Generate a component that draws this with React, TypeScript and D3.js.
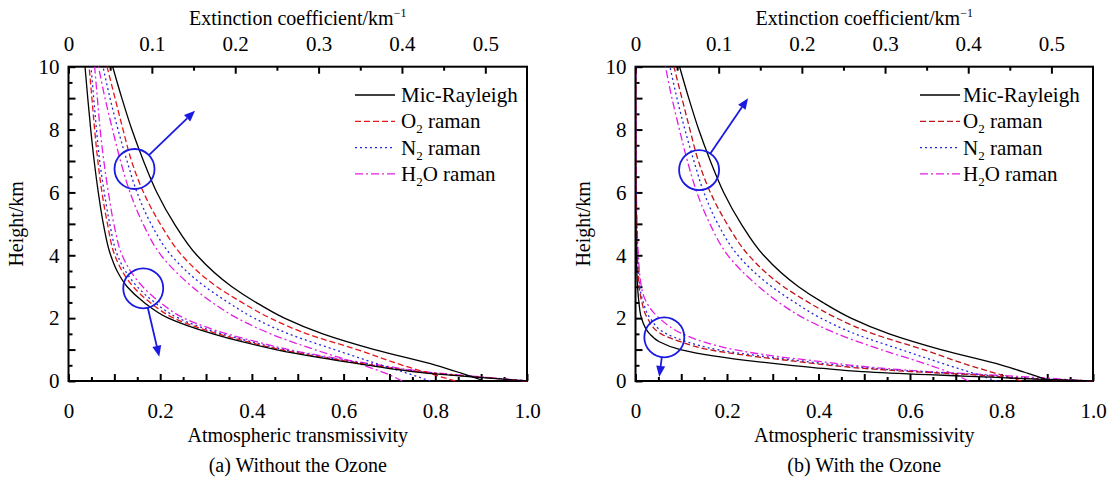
import React from "react";
import * as d3 from "d3";

// extinction coefficient profiles (km^-1), same in both panels
const extHeights = [0, 0.25, 0.5, 1, 1.5, 2, 2.5, 3, 4, 5, 6, 7, 8, 9, 10];
const extMie = [0.499, 0.471, 0.441, 0.367, 0.305, 0.259, 0.225, 0.196, 0.154, 0.127, 0.106, 0.09, 0.076, 0.064, 0.053];
const extO2 = [0.464, 0.432, 0.401, 0.346, 0.286, 0.242, 0.208, 0.178, 0.136, 0.11, 0.09, 0.0756, 0.0654, 0.0558, 0.0462];
const extN2 = [0.434, 0.406, 0.376, 0.319, 0.264, 0.2227, 0.1915, 0.1639, 0.1231, 0.099, 0.0822, 0.0702, 0.0594, 0.0498, 0.0414];
const extH2O = [0.4004, 0.38, 0.354, 0.295, 0.2425, 0.2023, 0.1723, 0.1483, 0.111, 0.0894, 0.0738, 0.0624, 0.0528, 0.0438, 0.036];

// transmissivity without ozone
const transAHeights = [0, 0.1, 0.2, 0.3, 0.5, 0.75, 1, 1.25, 1.5, 2, 2.5, 3, 3.5, 4, 5, 6, 7, 8, 9, 10];
const transAMie = [1.0, 0.91, 0.82, 0.75, 0.655, 0.545, 0.452, 0.378, 0.315, 0.218, 0.165, 0.128, 0.106, 0.092, 0.076, 0.065, 0.056, 0.0485, 0.042, 0.036];
const transAO2 = [1.0, 0.915, 0.83, 0.76, 0.665, 0.556, 0.462, 0.39, 0.326, 0.23, 0.178, 0.141, 0.117, 0.101, 0.085, 0.073, 0.064, 0.057, 0.051, 0.045];
const transAN2 = [1.0, 0.92, 0.836, 0.766, 0.672, 0.563, 0.47, 0.398, 0.334, 0.24, 0.188, 0.15, 0.124, 0.107, 0.09, 0.078, 0.068, 0.061, 0.055, 0.049];
const transAH2O = [1.0, 0.925, 0.845, 0.775, 0.682, 0.573, 0.48, 0.41, 0.346, 0.252, 0.2, 0.162, 0.135, 0.117, 0.099, 0.087, 0.077, 0.069, 0.063, 0.057];

// transmissivity with ozone
const transBHeights = [0, 0.05, 0.1, 0.15, 0.2, 0.3, 0.4, 0.5, 0.6, 0.8, 1, 1.25, 1.5, 2, 2.5, 3, 4, 5, 6, 8, 10];
const transBMie = [1.0, 0.894, 0.81, 0.73, 0.64, 0.495, 0.41, 0.34, 0.275, 0.17, 0.098, 0.052, 0.031, 0.013, 0.0075, 0.0045, 0.002, 0.001, 0.0006, 0.0003, 0.0002];
const transBO2 = [1.0, 0.9, 0.825, 0.785, 0.735, 0.603, 0.5, 0.425, 0.365, 0.25, 0.159, 0.098, 0.056, 0.026, 0.014, 0.008, 0.004, 0.002, 0.0012, 0.0006, 0.0003];
const transBN2 = [1.0, 0.915, 0.84, 0.8, 0.75, 0.62, 0.52, 0.445, 0.385, 0.27, 0.178, 0.112, 0.068, 0.032, 0.017, 0.0095, 0.0045, 0.0025, 0.0015, 0.0007, 0.0004];
const transBH2O = [1.0, 0.94, 0.894, 0.83, 0.77, 0.64, 0.545, 0.473, 0.415, 0.3, 0.215, 0.148, 0.103, 0.052, 0.024, 0.013, 0.0062, 0.0035, 0.002, 0.001, 0.0006];

const seriesLabels = [
  ["Mic-Rayleigh", "", ""],
  ["O", "2", " raman"],
  ["N", "2", " raman"],
  ["H", "2", "O raman"],
];
const colorsA = ["#000000", "#e8161b", "#2626e0", "#e41ee2"];
const colorsB = ["#000000", "#c0141a", "#2626e0", "#e41ee2"];
const dashes = [null, "6,3", "2,3", "8,3,2,3"];

const bottomTicks = [0, 0.2, 0.4, 0.6, 0.8, 1.0];
const topTicks = [0, 0.1, 0.2, 0.3, 0.4, 0.5];
const leftTicks = [0, 2, 4, 6, 8, 10];

// blue circles (center in transmissivity/height units) with arrows
const annotA = [
  { cx: 0.144, cy: 6.745, ex: 0.276, ey: 8.6 },
  { cx: 0.163, cy: 2.95, ex: 0.198, ey: 0.77 },
];
const annotB = [
  { cx: 0.139, cy: 6.71, ex: 0.246, ey: 9.0 },
  { cx: 0.063, cy: 1.39, ex: 0.052, ey: 0.13 },
];

const FONT = "'Liberation Serif', 'Times New Roman', serif";

const panels = [
  {
    left: 68.5, right: 527, trans: [transAMie, transAO2, transAN2, transAH2O], transHeights: transAHeights,
    colors: colorsA, annot: annotA, caption: "(a) Without the Ozone", legendX: 355, legendText: 401,
  },
  {
    left: 635.5, right: 1093, trans: [transBMie, transBO2, transBN2, transBH2O], transHeights: transBHeights,
    colors: colorsB, annot: annotB, caption: "(b) With the Ozone", legendX: 920, legendText: 963,
  },
];
const extSeries = [extMie, extO2, extN2, extH2O];

const App = () => {
  const svgRef = React.useRef<SVGSVGElement>(null);

  React.useEffect(() => {
    const svg = d3.select(svgRef.current);
    svg.selectAll("*").remove();
    const top = 66.7;
    const bottom = 381;

    panels.forEach((p) => {
      const x = d3.scaleLinear().domain([0, 1]).range([p.left, p.right]);
      const xt = d3.scaleLinear().domain([0, 0.55]).range([p.left, p.right]);
      const y = d3.scaleLinear().domain([0, 10]).range([bottom, top]);
      const g = svg.append("g").style("font-family", FONT);
      const mid = (p.left + p.right) / 2;

      // minor ticks
      const minor = (axis, tv, size) =>
        axis.tickValues(tv).tickSize(-size).tickFormat(() => "");
      g.append("g").attr("transform", `translate(0,${bottom})`)
        .call(minor(d3.axisBottom(x), d3.range(0.05, 1, 0.1), 4));
      g.append("g").attr("transform", `translate(0,${bottom})`)
        .call(minor(d3.axisBottom(x), [0.1, 0.3, 0.5, 0.7, 0.9], 7));
      g.append("g").attr("transform", `translate(0,${top})`)
        .call(minor(d3.axisTop(xt), d3.range(0.05, 0.55, 0.1), 4));
      g.append("g").attr("transform", `translate(${p.left},0)`)
        .call(minor(d3.axisLeft(y), d3.range(0.5, 10, 1), 4));
      g.append("g").attr("transform", `translate(${p.left},0)`)
        .call(minor(d3.axisLeft(y), [1, 3, 5, 7, 9], 7));

      // major ticks with labels
      g.append("g").attr("transform", `translate(0,${bottom})`)
        .call(d3.axisBottom(x).tickValues(bottomTicks).tickSize(-7).tickPadding(22)
          .tickFormat((d) => (d === 0 ? "0" : d3.format(".1f")(d))));
      g.append("g").attr("transform", `translate(0,${top})`)
        .call(d3.axisTop(xt).tickValues(topTicks).tickSize(-7).tickPadding(16)
          .tickFormat((d) => (d === 0 ? "0" : d3.format(".1f")(d))));
      g.append("g").attr("transform", `translate(${p.left},0)`)
        .call(d3.axisLeft(y).tickValues(leftTicks).tickSize(-7).tickPadding(9)
          .tickFormat(d3.format("d")));

      g.selectAll(".domain").remove();
      g.selectAll(".tick line").attr("stroke", "#000").attr("stroke-width", 2);
      g.selectAll(".tick text")
        .style("font-family", FONT)
        .style("font-size", "21px")
        .attr("fill", "#000");

      // frame
      g.append("rect")
        .attr("x", p.left).attr("y", top)
        .attr("width", p.right - p.left).attr("height", bottom - top)
        .attr("fill", "none").attr("stroke", "#000").attr("stroke-width", 2);

      // curves
      const lineExt = d3.line<number>()
        .x((d) => xt(d))
        .y((_, i) => y(extHeights[i]))
        .curve(d3.curveMonotoneY);
      const lineTrans = d3.line<number>()
        .x((d) => x(d))
        .y((_, i) => y(p.transHeights[i]))
        .curve(d3.curveMonotoneY);

      const drawSeries = (gen, data, i) => {
        const path = g.append("path")
          .attr("d", gen(data))
          .attr("fill", "none")
          .attr("stroke", p.colors[i])
          .attr("stroke-width", 1.3);
        if (dashes[i]) path.attr("stroke-dasharray", dashes[i]);
      };
      [3, 2, 1, 0].forEach((i) => {
        drawSeries(lineExt, extSeries[i], i);
        drawSeries(lineTrans, p.trans[i], i);
      });

      // annotations
      const blue = "#1a1ae0";
      p.annot.forEach((a) => {
        const cx = x(a.cx), cy = y(a.cy), ex = x(a.ex), ey = y(a.ey);
        const r = 20;
        g.append("circle").attr("cx", cx).attr("cy", cy).attr("r", r)
          .attr("fill", "none").attr("stroke", blue).attr("stroke-width", 1.8);
        const dx = ex - cx, dy = ey - cy;
        const len = Math.hypot(dx, dy);
        const ux = dx / len, uy = dy / len;
        const sx = cx + ux * r, sy = cy + uy * r;
        const head = 11, hw = 4.5;
        const bx = ex - ux * head, by = ey - uy * head;
        g.append("line").attr("x1", sx).attr("y1", sy).attr("x2", bx).attr("y2", by)
          .attr("stroke", blue).attr("stroke-width", 1.8);
        g.append("path")
          .attr("d", `M${ex},${ey}L${bx - uy * hw},${by + ux * hw}L${bx + uy * hw},${by - ux * hw}Z`)
          .attr("fill", blue);
      });

      // legend
      seriesLabels.forEach((lab, i) => {
        const ly = 95 + i * 26.3;
        const ln = g.append("line")
          .attr("x1", p.legendX).attr("x2", p.legendX + 40)
          .attr("y1", ly).attr("y2", ly)
          .attr("stroke", p.colors[i]).attr("stroke-width", 1.3);
        if (dashes[i]) ln.attr("stroke-dasharray", dashes[i]);
        const t = g.append("text").attr("x", p.legendText).attr("y", ly + 7)
          .style("font-family", FONT).style("font-size", "21px").attr("fill", "#000");
        t.append("tspan").text(lab[0]);
        if (lab[1]) {
          t.append("tspan").style("font-size", "13px").attr("dy", 5).text(lab[1]);
          t.append("tspan").attr("dy", -5).text(lab[2]);
        }
      });

      // titles
      const title = g.append("text").attr("x", mid).attr("y", 25)
        .attr("text-anchor", "middle").style("font-size", "20px").attr("fill", "#000");
      title.append("tspan").text("Extinction coefficient/km");
      title.append("tspan").style("font-size", "12px").attr("dy", -8).text("\u22121");

      g.append("text").attr("x", mid).attr("y", 442)
        .attr("text-anchor", "middle").style("font-size", "20px").attr("fill", "#000")
        .text("Atmospheric transmissivity");
      g.append("text").attr("x", mid).attr("y", 472)
        .attr("text-anchor", "middle").style("font-size", "20px").attr("fill", "#000")
        .text(p.caption);
      g.append("text")
        .attr("transform", `translate(${p.left - 46},${(top + bottom) / 2}) rotate(-90)`)
        .attr("text-anchor", "middle").style("font-size", "20px").attr("fill", "#000")
        .text("Height/km");
    });
  }, []);

  return (
    <svg
      ref={svgRef}
      width={1115}
      height={482}
      style={{ position: "absolute", left: 0, top: 0, background: "#fff" }}
    />
  );
};

export default App;
